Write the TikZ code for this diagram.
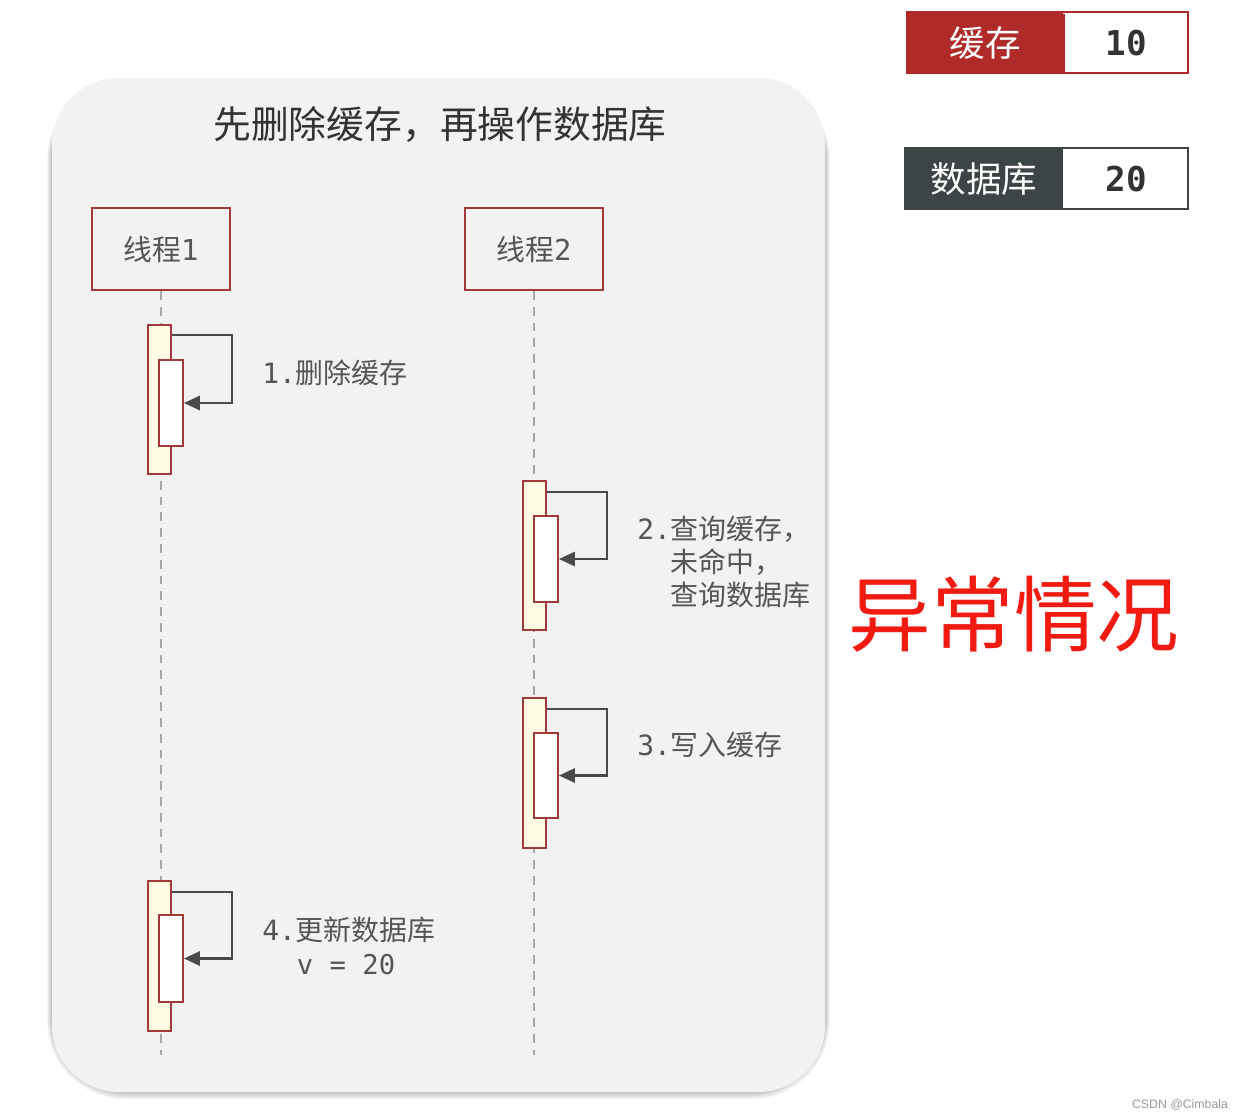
\documentclass[tikz,border=0pt]{standalone}
\usepackage{fontspec}
\setmainfont{Noto Sans CJK SC}
\newfontfamily\mono{DejaVu Sans Mono}
\newfontfamily\wmfont{Liberation Sans}
\newcommand\mn[1]{{\mono #1}}
\usetikzlibrary{arrows.meta,calc}
\definecolor{frame}{HTML}{A33A3A}
\definecolor{actfill}{HTML}{FFFBE3}
\definecolor{panel}{HTML}{F2F2F2}
\definecolor{arrowc}{HTML}{4A4A4A}
\definecolor{labelc}{HTML}{555555}
\definecolor{titlec}{HTML}{333333}
\definecolor{cachered}{HTML}{B02A2A}
\definecolor{dbdark}{HTML}{3C4446}
\definecolor{alarm}{HTML}{F21B12}
\begin{document}
\begin{tikzpicture}[x=0.02cm,y=-0.02cm,
  threadbox/.style={draw=frame,line width=1.1pt,fill=panel,minimum width=2.76cm,minimum height=1.64cm,inner sep=0pt,
    font=\fontsize{16.4}{19}\selectfont,text=labelc},
  lifeline/.style={draw=gray!70,line width=0.8pt,dash pattern=on 5pt off 4pt},
  outerbox/.style={draw=frame,line width=1.1pt,fill=actfill,minimum width=0.46cm,minimum height=2.98cm,inner sep=0pt},
  innerbox/.style={draw=frame,line width=1.1pt,fill=white,minimum width=0.48cm,minimum height=1.72cm,inner sep=0pt},
  selfarrow/.style={draw=arrowc,line width=1.4pt,-{Triangle[length=9pt,width=8pt]}},
  steplabel/.style={anchor=west,inner sep=0pt,align=left,text=labelc,font=\fontsize{15.9}{19}\selectfont},
  keybox/.style={minimum height=1.24cm,inner sep=0pt,font=\fontsize{20.2}{24}\selectfont,text=white},
  valbox/.style={minimum height=1.24cm,minimum width=2.54cm,inner sep=0pt,fill=white,
    font=\mono\bfseries\fontsize{19.5}{24}\selectfont,text=titlec}
]
\useasboundingbox (0,0) rectangle (1242,1120);
\fill[white] (0,0) rectangle (1242,1120);

% panel shadow
\foreach \i in {1,...,8}{
  \fill[black,opacity=0.03,rounded corners=44] (52-\i*0.6,80+\i*0.2) rectangle (825+\i*0.6,1092+\i*0.9);
}
\fill[panel,rounded corners=38] (52,78) rectangle (825,1092);

\node[text=titlec,font=\fontsize{21.5}{26}\selectfont] (title) at (440,125) {先删除缓存，再操作数据库};

% threads
\node[threadbox] (t1) at (161,249) {线程\mn{1}};
\node[threadbox] (t2) at (534,249) {线程\mn{2}};
\coordinate (t1end) at (161,1055);
\coordinate (t2end) at (534,1055);
\draw[lifeline] (t1.south) -- (t1end);
\draw[lifeline] (t2.south) -- (t2end);

% activation 1
\node[outerbox] (o1) at (159.5,399.5) {};
\node[innerbox] (i1) at (171,403) {};
\draw[selfarrow] ($(o1.north east)+(0,11)$) -- ++(60,0) |- (i1.east);
\node[steplabel] (l1) at (262,373) {\mn{1.}删除缓存};

% activation 2
\node[outerbox] (o2) at (534.5,555.5) {};
\node[innerbox] (i2) at (546,559) {};
\draw[selfarrow] ($(o2.north east)+(0,12)$) -- ++(60,0) |- (i2.east);
\node[steplabel,font=\fontsize{15.9}{18.9}\selectfont] (l2) at (637,562) {\mn{2.}查询缓存，\\\phantom{\mn{2.}}未命中，\\\phantom{\mn{2.}}查询数据库};

% activation 3
\node[outerbox,minimum height=3.0cm] (o3) at (534.5,773) {};
\node[innerbox,minimum height=1.7cm] (i3) at (546,775.5) {};
\draw[selfarrow] ($(o3.north east)+(0,12)$) -- ++(60,0) |- (i3.east);
\node[steplabel] (l3) at (637,745) {\mn{3.}写入缓存};

% activation 4
\node[outerbox,minimum height=3.0cm] (o4) at (159.5,956) {};
\node[innerbox,minimum height=1.74cm] (i4) at (171,958.5) {};
\draw[selfarrow] ($(o4.north east)+(0,12)$) -- ++(60,0) |- (i4.east);
\node[steplabel] (l4) at (262,930) {\mn{4.}更新数据库};
\node[text=labelc,font=\mono\fontsize{15.5}{19}\selectfont,inner sep=0pt] (l4b) at (346,965) {v = 20};

% legend boxes
\node[keybox,fill=cachered,minimum width=3.12cm] (ck) at (985,43.5) {缓存};
\node[valbox,minimum height=1.18cm,minimum width=2.46cm] (cv) at (1126,43.5) {10};
\draw[cachered,line width=1.3pt] (ck.north west) rectangle (cv.south east);
\draw[cachered,line width=1.3pt] (cv.north west) -- (cv.south west);

\node[keybox,fill=dbdark,minimum width=3.16cm] (dk) at (984,179) {数据库};
\node[valbox,minimum height=1.18cm,minimum width=2.46cm] (dv) at (1126,179) {20};
\draw[dbdark,line width=1.3pt] (dk.north west) rectangle (dv.south east);

\node[text=alarm,font=\fontsize{47}{52}\selectfont,inner sep=0pt] (alarm) at (1014,614) {异常情况};

\node[text=gray!80,font=\wmfont\fontsize{7}{8}\selectfont,inner sep=0pt] (wm) at (1180,1105) {CSDN @Cimbala};
\end{tikzpicture}
\end{document}
